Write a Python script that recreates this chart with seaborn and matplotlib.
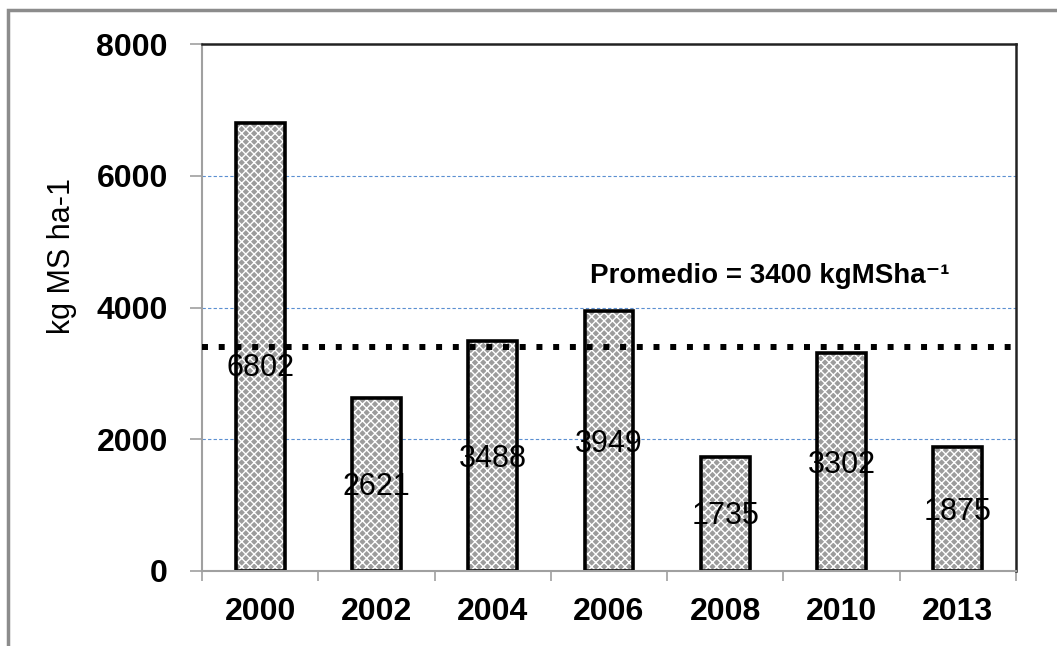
"""
Biomass production per year (kg MS ha-1) with the period average.
"""

import pandas as pd
import matplotlib.pyplot as plt
import seaborn as sns
from matplotlib.patches import Rectangle

years = ["2000", "2002", "2004", "2006", "2008", "2010", "2013"]
biomass = [6802, 2621, 3488, 3949, 1735, 3302, 1875]
promedio = 3400
y_ticks = [0, 2000, 4000, 6000, 8000]

df = pd.DataFrame({"year": years, "kg": biomass})

sns.set_style("white")
plt.rcParams["font.family"] = ["Liberation Sans", "DejaVu Sans"]
plt.rcParams["hatch.linewidth"] = 1.0
plt.rcParams["text.color"] = "black"
plt.rcParams["axes.labelcolor"] = "black"
plt.rcParams["xtick.labelcolor"] = "black"
plt.rcParams["ytick.labelcolor"] = "black"

fig = plt.figure(figsize=(10.57, 6.46), dpi=100)
ax = fig.add_axes([202 / 1057, 1 - 571 / 646, (1016 - 202) / 1057, (571 - 44) / 646])

# textured fill first, then the black outline on top
sns.barplot(data=df, x="year", y="kg", ax=ax, color="#9c9c9c", width=0.42,
            edgecolor="white", linewidth=0, hatch="xxxx", zorder=2)
sns.barplot(data=df, x="year", y="kg", ax=ax, fill=False, width=0.42,
            edgecolor="black", linewidth=2.6, zorder=3)

ax.set_ylim(0, 8000)
ax.set_xlim(-0.5, len(years) - 0.5)
ax.set_yticks(y_ticks)
ax.set_yticklabels([str(t) for t in y_ticks], fontsize=23, fontweight="bold")
ax.set_xticks(range(len(years)))
ax.set_xticklabels(years, fontsize=23, fontweight="bold")
ax.tick_params(axis="x", length=0, pad=19)
ax.tick_params(axis="y", length=8.6, width=1.2, color="#a0a0a0", pad=16, direction="out", left=True)
ax.set_xticks([i - 0.5 for i in range(len(years) + 1)], minor=True)
ax.tick_params(axis="x", which="minor", length=7, width=1.2, color="#a0a0a0", direction="out", bottom=True)

ax.set_xlabel("")
ax.set_ylabel("kg MS ha-1", fontsize=22)
ax.yaxis.set_label_coords(-0.153, 0.598)

for t in y_ticks[1:-1]:
    ax.axhline(t, color="#5b8fd1", lw=0.8, ls=(0, (3, 2)), zorder=1)

ax.axhline(promedio, color="black", lw=4.3, ls=(0, (1, 1.8)), zorder=4)
ax.text(4.38, 4478, "Promedio = 3400 kgMSha⁻¹", ha="center", va="center",
        fontsize=20, fontweight="bold", zorder=5)

# value labels sit mid-bar, but never above the average line
for i, v in enumerate(biomass):
    y = min(v / 2 - 40, promedio - 320)
    ax.text(i, y, str(v), ha="center", va="center", fontsize=22, zorder=5)

for side in ["left", "bottom"]:
    ax.spines[side].set_color("#a0a0a0")
    ax.spines[side].set_linewidth(1.5)
for side in ["top", "right"]:
    ax.spines[side].set_color("#222222")
    ax.spines[side].set_linewidth(1.8)
ax.spines["bottom"].set_zorder(6)

# grey frame around the chart area
fig.patches.append(Rectangle((8 / 1057, -0.2), 1.2, 1.2 - 10 / 646, transform=fig.transFigure,
                             fill=False, edgecolor="#8c8c8c", lw=2.5, clip_on=False))

fig.savefig("out.png", dpi=100)
